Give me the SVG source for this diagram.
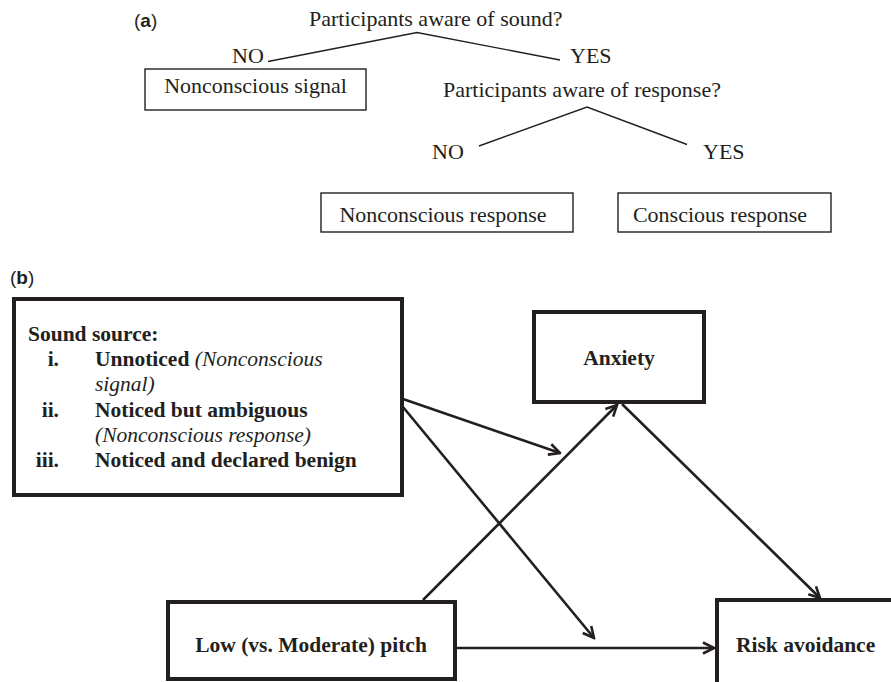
<svg xmlns="http://www.w3.org/2000/svg" width="891" height="682" viewBox="0 0 891 682">
<style>
.t{font-family:"Liberation Serif","Times New Roman",serif;font-size:22px;fill:#231f20}
.b{font-family:"Liberation Serif","Times New Roman",serif;font-size:21.5px;font-weight:bold;fill:#231f20}
.i{font-style:italic;font-weight:normal}
.lab{font-family:"Liberation Sans",Arial,sans-serif;font-size:19px;fill:#231f20}
.thin{fill:#fff;stroke:#231f20;stroke-width:1.4}
.thick{fill:#fff;stroke:#231f20;stroke-width:4}
.tree{fill:none;stroke:#231f20;stroke-width:1.4}
.arr{fill:none;stroke:#231f20;stroke-width:2.6;marker-end:url(#ah)}
</style>
<defs>
<marker id="ah" viewBox="0 0 14 14" refX="12.5" refY="7" markerWidth="14" markerHeight="14" markerUnits="userSpaceOnUse" orient="auto">
<path d="M1.5,1.5 L12.5,7 L1.5,12.5" fill="none" stroke="#231f20" stroke-width="2.6" stroke-linejoin="miter"/>
</marker>
</defs>
<rect width="891" height="682" fill="#fff"/>

<!-- Panel (a) -->
<text class="lab" x="134" y="27">(<tspan font-weight="bold">a</tspan>)</text>
<g id="q1"><text class="t" x="309" y="26">Participants aware of sound?</text></g>
<g id="no1"><text class="t" x="232" y="63">NO</text></g>
<g id="yes1"><text class="t" x="570" y="63">YES</text></g>
<g id="signal"><rect class="thin" x="145" y="69" width="221" height="41"/><text class="t" x="255.5" y="93" text-anchor="middle">Nonconscious signal</text></g>
<g id="q2"><text class="t" x="443" y="97">Participants aware of response?</text></g>
<g id="no2"><text class="t" x="432" y="159">NO</text></g>
<g id="yes2"><text class="t" x="703" y="159">YES</text></g>
<g id="ncresp"><rect class="thin" x="321" y="193" width="252" height="39"/><text class="t" x="443" y="222" text-anchor="middle">Nonconscious response</text></g>
<g id="cresp"><rect class="thin" x="618" y="193" width="213" height="39"/><text class="t" x="720" y="222" text-anchor="middle">Conscious response</text></g>
<g id="tree-lines">
<polyline class="tree" points="268,61.5 417,32.5 560,60"/>
<polyline class="tree" points="479,146 587,107 687,144.5"/>
</g>

<!-- Panel (b) -->
<text class="lab" x="10" y="284">(<tspan font-weight="bold">b</tspan>)</text>
<g id="sound">
<rect class="thick" x="14" y="299" width="388" height="196"/>
<text class="b" x="28" y="341">Sound source:</text>
<text class="b" x="59" y="366" text-anchor="end">i.</text>
<text class="b" x="95" y="366">Unnoticed <tspan class="i">(Nonconscious</tspan></text>
<text class="b i" x="95" y="391">signal)</text>
<text class="b" x="59" y="417" text-anchor="end">ii.</text>
<text class="b" x="95" y="417">Noticed but ambiguous</text>
<text class="b i" x="95" y="442">(Nonconscious response)</text>
<text class="b" x="59" y="467" text-anchor="end">iii.</text>
<text class="b" x="95" y="467">Noticed and declared benign</text>
</g>
<g id="anxiety"><rect class="thick" x="534" y="312" width="170" height="90"/><text class="b" x="619" y="365" text-anchor="middle">Anxiety</text></g>
<g id="pitch"><rect class="thick" x="168" y="602" width="287" height="77"/><text class="b" x="311" y="652" text-anchor="middle">Low (vs. Moderate) pitch</text></g>
<g id="risk"><rect class="thick" x="717" y="600" width="200" height="120"/><text class="b" x="736" y="652">Risk avoidance</text></g>

<g id="connectors">
<line class="arr" x1="403" y1="399" x2="560" y2="453"/>
<line class="arr" x1="403" y1="407" x2="594" y2="638"/>
<line class="arr" x1="423" y1="600" x2="617" y2="405"/>
<line class="arr" x1="622" y1="404" x2="820" y2="598"/>
<line class="arr" x1="456" y1="648" x2="714" y2="648"/>
</g>
</svg>
